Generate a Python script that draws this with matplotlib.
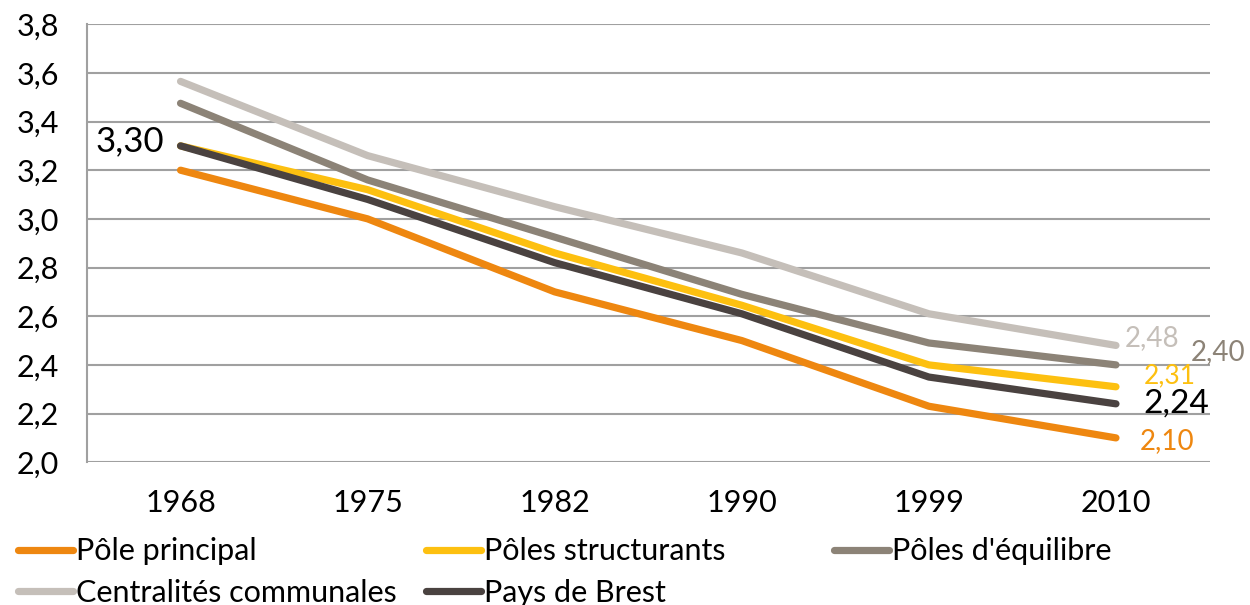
import matplotlib.pyplot as plt
from matplotlib.lines import Line2D

plt.rcParams['font.family'] = ['Lato', 'DejaVu Sans']

years = ["1968", "1975", "1982", "1990", "1999", "2010"]
pole_principal = [3.20, 3.00, 2.70, 2.50, 2.23, 2.10]
poles_structurants = [3.30, 3.12, 2.86, 2.645, 2.40, 2.31]
poles_equilibre = [3.475, 3.16, 2.925, 2.69, 2.49, 2.40]
centralites = [3.565, 3.26, 3.05, 2.86, 2.61, 2.48]
pays_brest = [3.30, 3.08, 2.82, 2.61, 2.35, 2.24]

series = [
    ("Pôle principal", pole_principal, "#EE8710"),
    ("Pôles structurants", poles_structurants, "#FDC010"),
    ("Pôles d'équilibre", poles_equilibre, "#8C8377"),
    ("Centralités communales", centralites, "#C5BFB9"),
    ("Pays de Brest", pays_brest, "#4A4240"),
]

fig = plt.figure(figsize=(12.5, 6.05), dpi=100)
ax = fig.add_axes([0.0696, 0.236, 0.898, 0.724])

x = list(range(len(years)))
# light lines behind, dark on top
for name, vals, col in [series[3], series[2], series[1], series[0], series[4]]:
    ax.plot(x, vals, color=col, lw=5.2, solid_capstyle="round", solid_joinstyle="round")

ax.set_xlim(-0.5, 5.5)
ax.set_ylim(2.0, 3.8)
ax.set_yticks([2.0 + 0.2 * i for i in range(10)])
ax.set_yticklabels([f"{2.0 + 0.2 * i:.1f}".replace(".", ",") for i in range(10)])
ax.set_xticks(x)
ax.set_xticklabels(years)
ax.tick_params(axis="y", length=0, pad=20, labelsize=22)
ax.tick_params(axis="x", length=0, pad=19, labelsize=22)
ax.grid(axis="y", color="#A0A0A0", lw=1.5)
ax.set_axisbelow(True)
for s in ["top", "right", "bottom"]:
    ax.spines[s].set_visible(False)
ax.spines["left"].set_color("#A0A0A0")
ax.spines["left"].set_linewidth(1.5)

# value labels
ax.annotate("3,30", (0, pays_brest[0]), xytext=(-12, 3), textcoords="offset points",
            ha="right", va="center", fontsize=25, color="black")
ax.annotate("2,48", (5, centralites[-1]), xytext=(6, 5), textcoords="offset points",
            ha="left", va="center", fontsize=20, color="#C5BFB9")
ax.annotate("2,40", (5, poles_equilibre[-1]), xytext=(54, 9), textcoords="offset points",
            ha="left", va="center", fontsize=20, color="#8C8377")
ax.annotate("2,31", (5, poles_structurants[-1]), xytext=(20, 8), textcoords="offset points",
            ha="left", va="center", fontsize=19, color="#FDC010")
ax.annotate("2,24", (5, pays_brest[-1]), xytext=(20, 0), textcoords="offset points",
            ha="left", va="center", fontsize=24, color="black")
ax.annotate("2,10", (5, pole_principal[-1]), xytext=(17, -2), textcoords="offset points",
            ha="left", va="center", fontsize=20, color="#EE8710")

# legend: three columns placed by hand
cols = [[series[0], series[3]], [series[1], series[4]], [series[2]]]
xpos = [0.014, 0.341, 0.667]
for items, xp in zip(cols, xpos):
    handles = [Line2D([], [], color=c, lw=5.2, solid_capstyle="round") for _, _, c in items]
    labels = [n for n, _, _ in items]
    fig.legend(handles, labels, loc="upper left", bbox_to_anchor=(xp, 0.112),
               frameon=False, fontsize=22, handlelength=1.8, handletextpad=0.1,
               labelspacing=0.45, borderaxespad=0, borderpad=0)

fig.savefig("out.png", dpi=100)
